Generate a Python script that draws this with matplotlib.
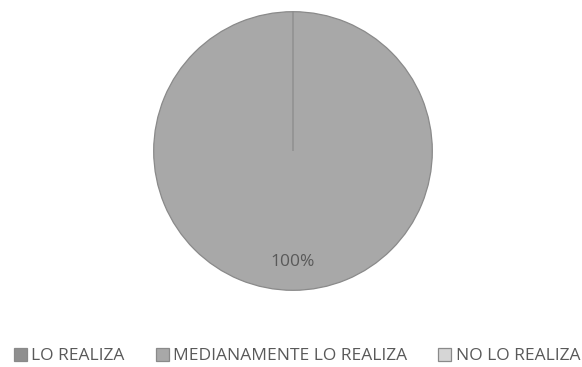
import matplotlib.pyplot as plt

categorias = ['LO REALIZA', 'MEDIANAMENTE LO REALIZA', 'NO LO REALIZA']
valores = [0, 100, 0]
colores = ['#8f8f8f', '#a8a8a8', '#d6d6d6']

plt.rcParams['font.family'] = ['Open Sans', 'DejaVu Sans']

fig = plt.figure(figsize=(5.82, 3.67), dpi=100)
ax = fig.add_axes([153 / 582, 76 / 367, 280 / 582, 280 / 367])

def etiqueta(pct):
    return f'{pct:.0f}%' if pct > 0 else ''

wedges, textos, autotextos = ax.pie(
    valores, colors=colores, startangle=90, counterclock=False,
    autopct=etiqueta, pctdistance=0.80,
    wedgeprops=dict(edgecolor='#8a8a8a', linewidth=0.9),
    textprops=dict(color='#595959', fontsize=12.5))
ax.set_xlim(-1.005, 1.005)
ax.set_ylim(-1.005, 1.005)
ax.set_aspect('equal')

fig.legend(wedges, categorias, loc='center', bbox_to_anchor=(0.51, 0.03),
           ncol=3, frameon=False, fontsize=12.5, labelcolor='#595959',
           handlelength=0.75, handleheight=0.75, handletextpad=0.25,
           columnspacing=1.8)

fig.savefig('out.png', dpi=100)
